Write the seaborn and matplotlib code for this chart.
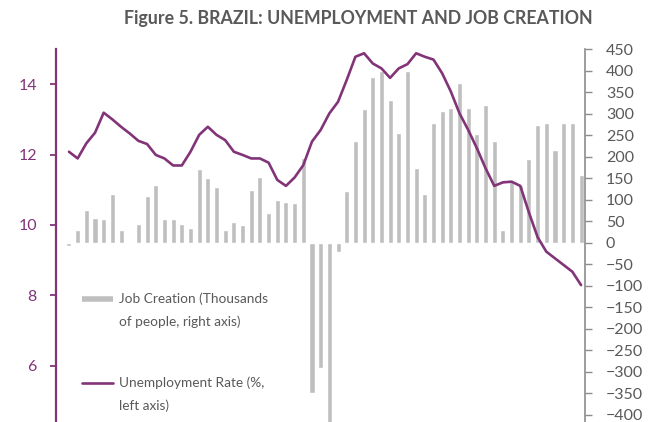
import numpy as np
import pandas as pd
from matplotlib import pyplot as plt
from matplotlib.lines import Line2D
import seaborn as sns

# job creation, thousands of people (right axis)
job_creation = [-8, 28, 76, 58, 54, 112, 29, -3, 43, 108,
                134, 54, 54, 43, 33, 171, 150, 128, 29, 47,
                40, 121, 153, 69, 98, 95, 91, 196, -350, -291,
                -440, -21, 120, 237, 310, 386, 398, 332, 254, 398,
                174, 112, 277, 306, 314, 372, 314, 252, 320, 236,
                29, 142, 134, 194, 274, 277, 215, 277, 277, 157]

# unemployment rate, % (left axis)
unemployment = [12.08, 11.89, 12.32, 12.62, 13.19, 13.00, 12.79, 12.60, 12.39, 12.30,
                11.99, 11.89, 11.69, 11.69, 12.08, 12.56, 12.79, 12.56, 12.41, 12.08,
                11.99, 11.89, 11.89, 11.77, 11.28, 11.11, 11.35, 11.70, 12.37, 12.70,
                13.17, 13.50, 14.12, 14.78, 14.88, 14.59, 14.45, 14.18, 14.45, 14.57,
                14.88, 14.78, 14.70, 14.31, 13.79, 13.17, 12.70, 12.18, 11.61, 11.11,
                11.21, 11.23, 11.11, 10.35, 9.65, 9.24, 9.05, 8.86, 8.67, 8.29]

left_ticks = [6, 8, 10, 12, 14]
right_ticks = list(range(-400, 451, 50))

title = "Figure 5. BRAZIL: UNEMPLOYMENT AND JOB CREATION"
bar_label = ["Job Creation (Thousands", "of people, right axis)"]
line_label = ["Unemployment Rate (%,", "left axis)"]

PURPLE = "#823479"
BAR_GREY = "#bfbfbf"
TEXT_GREY = "#595959"

sns.set_style("white")
plt.rcParams['font.family'] = ['Lato', 'DejaVu Sans']

df = pd.DataFrame({'pos': np.arange(len(job_creation)),
                   'jobs': job_creation,
                   'unemp': unemployment})

fig = plt.figure(figsize=(6.63, 4.22), dpi=100)
ax = fig.add_axes([0.084, -0.0332, 0.7984, 0.917])
ax_bar = ax.twinx()

# bars on the right axis, behind the line
sns.barplot(data=df, x='pos', y='jobs', color=BAR_GREY, saturation=1,
            width=0.58, ax=ax_bar)
sns.lineplot(data=df, x='pos', y='unemp', color=PURPLE, linewidth=1.9, ax=ax)

ax.set_zorder(ax_bar.get_zorder() + 1)
ax.patch.set_visible(False)

ax.set_xlim(-1.53, len(job_creation) - 0.54)
ax_bar.set_xlim(-1.53, len(job_creation) - 0.54)
ax.set_ylim(4, 15)
ax_bar.set_ylim(-450, 450)

ax.set_yticks(left_ticks)
ax_bar.set_yticks(right_ticks)
ax.set_xticks([])
ax_bar.set_xticks([])
for a in (ax, ax_bar):
    a.set_xlabel("")
    a.set_ylabel("")
    for s in a.spines.values():
        s.set_visible(False)

ax.spines['left'].set_visible(True)
ax.spines['left'].set_color(PURPLE)
ax.spines['left'].set_linewidth(1.6)
ax.tick_params(axis='y', left=True, direction='out', length=4.5, width=1.3,
               color=PURPLE, labelcolor=PURPLE, labelsize=11.5, pad=9)

ax_bar.spines['right'].set_visible(True)
ax_bar.spines['right'].set_color("#8c8c8c")
ax_bar.spines['right'].set_linewidth(1.2)
ax_bar.tick_params(axis='y', right=True, direction='out', length=5, width=1,
                   color="#8c8c8c", labelcolor=TEXT_GREY, labelsize=11.5, pad=10)

fig.text(0.541, 0.957, title, ha='center', va='center', fontsize=12.8,
         fontweight='bold', color=TEXT_GREY)

# two small legends so the handle sits on the first text line
blank = Line2D([], [], color='none')
bar_handle = Line2D([], [], color=BAR_GREY, linewidth=4, solid_capstyle='butt')
line_handle = Line2D([], [], color=PURPLE, linewidth=1.9)

legend_kw = dict(loc='upper left', frameon=False, fontsize=9.8, labelcolor=TEXT_GREY,
                 handlelength=2.3, handletextpad=0.4, labelspacing=0.75,
                 borderpad=0, borderaxespad=0, bbox_transform=fig.transFigure)
leg1 = ax.legend([bar_handle, blank], bar_label, bbox_to_anchor=(0.1237, 0.306), **legend_kw)
ax.add_artist(leg1)
ax.legend([line_handle, blank], line_label, bbox_to_anchor=(0.1237, 0.107), **legend_kw)

fig.savefig("out.png", dpi=100)
